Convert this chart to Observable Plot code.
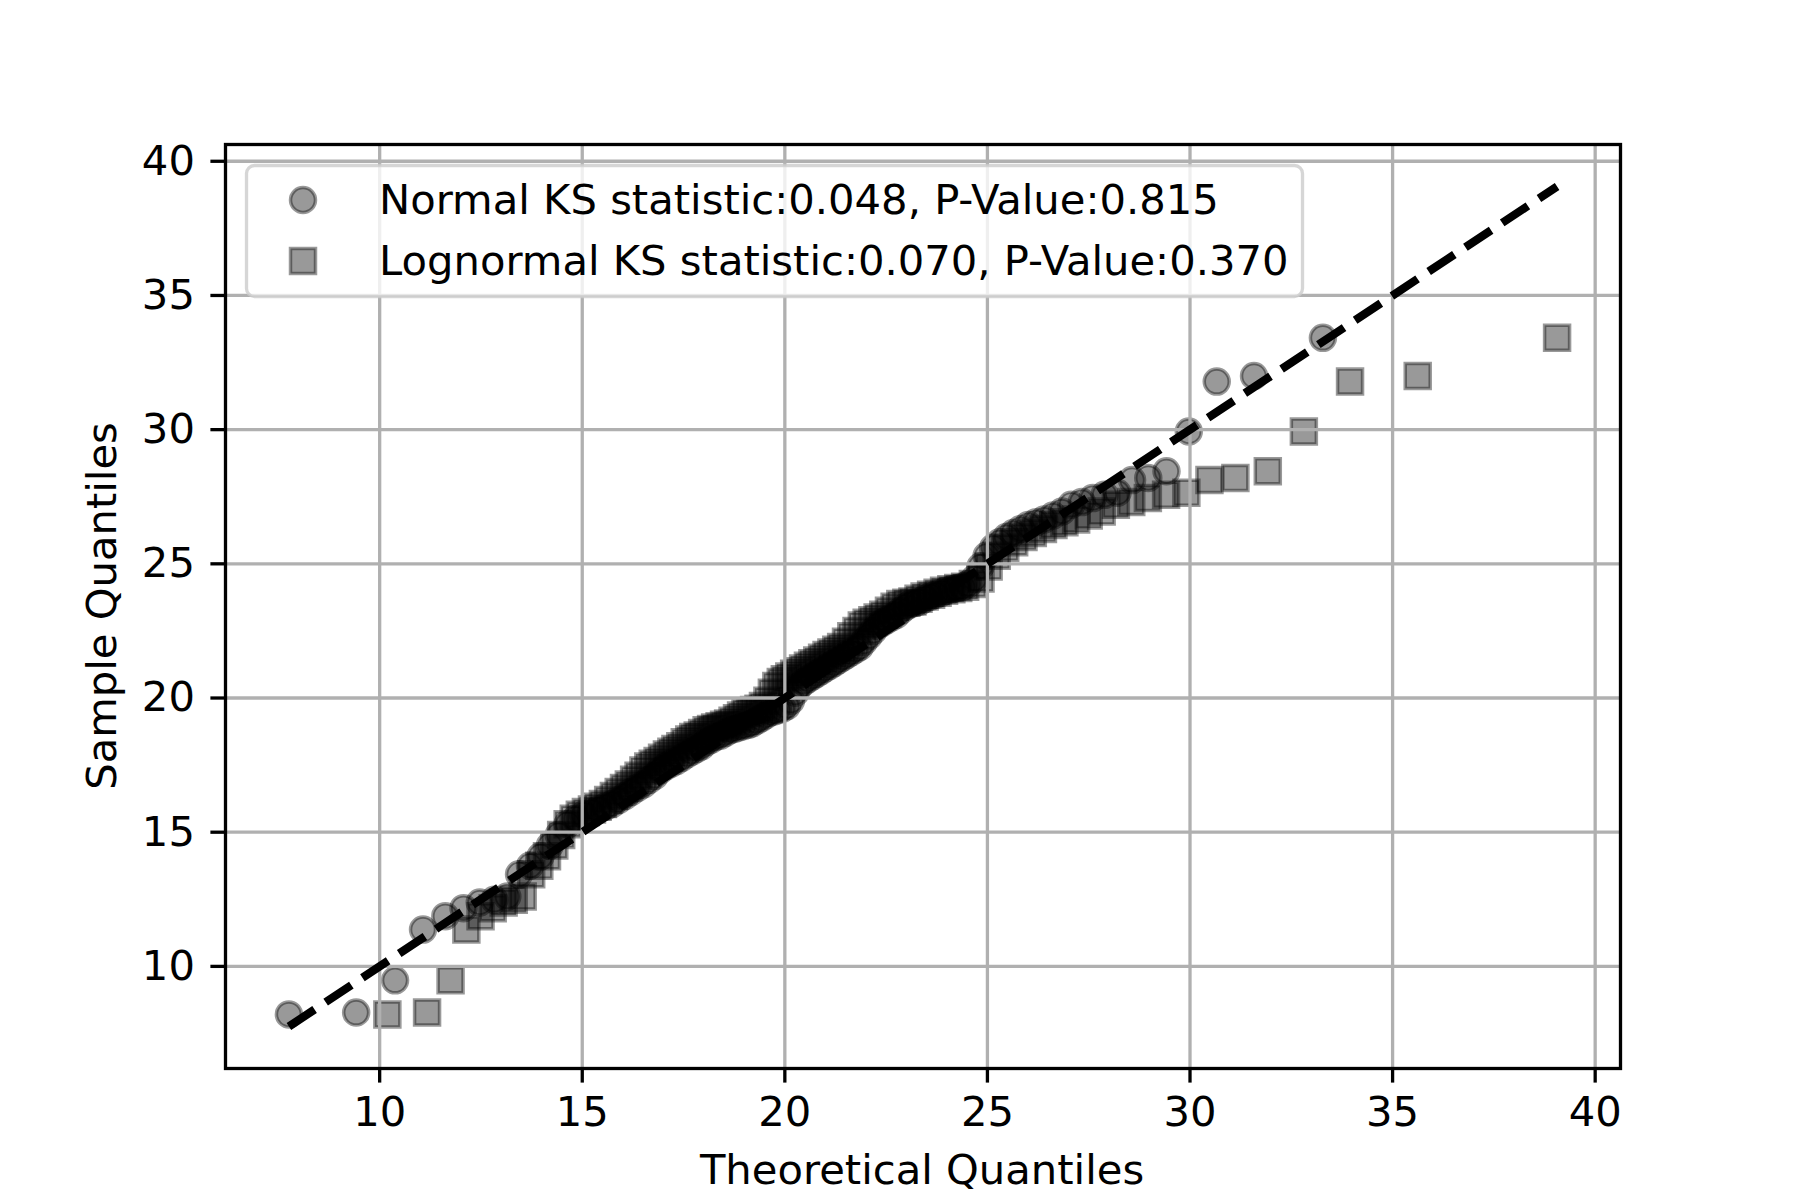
<!DOCTYPE html>
<html>
<head>
<meta charset="utf-8">
<script src="https://cdn.jsdelivr.net/npm/d3@7"></script>
<script src="https://cdn.jsdelivr.net/npm/@observablehq/plot@0.6"></script>
<style>
  html, body { margin: 0; padding: 0; background: #ffffff; }
  #wrap { position: relative; width: 1800px; height: 1200px; font-family: "DejaVu Sans", sans-serif; background: #ffffff; }
  #wrap > svg.plot { position: absolute; left: 0; top: 0; }
  #overlay { position: absolute; left: 0; top: 0; pointer-events: none; }
</style>
</head>
<body>
<div id="wrap"></div>
<script>
// ---- data ----
const sampleQ = [
  8.21, 8.28, 9.48, 11.37, 11.87, 12.17, 12.38, 12.48, 12.60, 13.43,
  13.75, 14.10, 14.50, 14.90, 15.30, 15.50, 15.65, 15.75, 15.85, 15.95,
  16.05, 16.20, 16.35, 16.50, 16.65, 16.78, 16.95, 17.10, 17.30, 17.45,
  17.55, 17.65, 17.77, 17.90, 18.00, 18.10, 18.20, 18.35, 18.45, 18.55,
  18.60, 18.70, 18.80, 18.85, 18.90, 18.95, 19.00, 19.05, 19.15, 19.25,
  19.35, 19.45, 19.50, 19.55, 19.60, 19.70, 19.90, 20.20, 20.45, 20.60,
  20.70, 20.80, 20.90, 21.00, 21.10, 21.20, 21.30, 21.40, 21.50, 21.60,
  21.70, 21.80, 21.90, 22.10, 22.30, 22.50, 22.70, 22.80, 22.90, 23.00,
  23.10, 23.25, 23.40, 23.50, 23.55, 23.60, 23.70, 23.78, 23.85, 23.92,
  24.00, 24.05, 24.10, 24.15, 24.25, 24.45, 24.90, 25.30, 25.60, 25.80,
  26.00, 26.15, 26.30, 26.45, 26.55, 26.65, 26.80, 26.95, 27.20, 27.30,
  27.45, 27.57, 27.65, 28.12, 28.20, 28.45, 29.93, 31.79, 32.00, 33.42
];
const normalQ = [
  7.76, 9.42, 10.38, 11.07, 11.62, 12.07, 12.47, 12.83, 13.15, 13.44,
  13.71, 13.97, 14.20, 14.42, 14.64, 14.84, 15.03, 15.22, 15.40, 15.57,
  15.74, 15.90, 16.06, 16.21, 16.36, 16.51, 16.65, 16.79, 16.92, 17.06,
  17.19, 17.32, 17.45, 17.58, 17.70, 17.82, 17.94, 18.06, 18.18, 18.29,
  18.41, 18.53, 18.64, 18.75, 18.86, 18.97, 19.09, 19.19, 19.30, 19.41,
  19.52, 19.62, 19.73, 19.83, 19.94, 20.05, 20.15, 20.26, 20.36, 20.47,
  20.57, 20.68, 20.78, 20.89, 20.99, 21.10, 21.21, 21.31, 21.42, 21.52,
  21.63, 21.74, 21.85, 21.95, 22.07, 22.18, 22.29, 22.40, 22.51, 22.63,
  22.75, 22.86, 22.98, 23.10, 23.22, 23.34, 23.46, 23.59, 23.72, 23.85,
  23.98, 24.12, 24.25, 24.39, 24.53, 24.68, 24.83, 24.98, 25.14, 25.30,
  25.47, 25.64, 25.82, 26.01, 26.20, 26.40, 26.62, 26.84, 27.07, 27.33,
  27.60, 27.89, 28.21, 28.57, 28.97, 29.42, 29.97, 30.66, 31.58, 33.28
];
const lognormalQ = [
  10.19, 11.17, 11.75, 12.14, 12.49, 12.79, 13.06, 13.31, 13.53, 13.74,
  13.94, 14.13, 14.31, 14.48, 14.64, 14.79, 14.94, 15.09, 15.24, 15.38,
  15.51, 15.64, 15.78, 15.90, 16.03, 16.15, 16.28, 16.39, 16.51, 16.63,
  16.74, 16.86, 16.97, 17.09, 17.20, 17.30, 17.42, 17.53, 17.64, 17.74,
  17.85, 17.96, 18.07, 18.18, 18.28, 18.39, 18.50, 18.60, 18.71, 18.82,
  18.92, 19.03, 19.14, 19.24, 19.35, 19.46, 19.57, 19.68, 19.79, 19.90,
  20.00, 20.11, 20.23, 20.34, 20.45, 20.57, 20.68, 20.80, 20.92, 21.03,
  21.15, 21.27, 21.39, 21.51, 21.64, 21.77, 21.90, 22.02, 22.16, 22.29,
  22.43, 22.57, 22.71, 22.85, 23.00, 23.15, 23.30, 23.45, 23.61, 23.77,
  23.93, 24.11, 24.28, 24.45, 24.64, 24.83, 25.03, 25.23, 25.44, 25.66,
  25.89, 26.12, 26.37, 26.63, 26.90, 27.19, 27.50, 27.82, 28.17, 28.55,
  28.96, 29.41, 29.91, 30.48, 31.12, 31.92, 32.81, 33.95, 35.62, 39.06
];
const refLine = [7.76, 39.06];
const xTicks = [10, 15, 20, 25, 30, 35, 40];
const yTicks = [10, 15, 20, 25, 30, 35, 40];
const legendLabels = [
  "Normal KS statistic:0.048, P-Value:0.815",
  "Lognormal KS statistic:0.070, P-Value:0.370"
];
const xLabel = "Theoretical Quantiles";
const yLabel = "Sample Quantiles";

// ---- build tables ----
const n = Math.min(sampleQ.length, normalQ.length, lognormalQ.length);
const normalPts = d3.range(n).map(i => ({x: normalQ[i], y: sampleQ[i]}));
const lognormalPts = d3.range(n).map(i => ({x: lognormalQ[i], y: sampleQ[i]}));
const linePts = refLine.map(v => ({x: v, y: v}));

const FS = 41.7;
const dotStyle = {fill: "black", fillOpacity: 0.4, stroke: "black", strokeOpacity: 0.4, strokeWidth: 3.5};

const chart = Plot.plot({
  width: 1800,
  height: 1200,
  marginLeft: 225,
  marginRight: 180,
  marginTop: 144,
  marginBottom: 132,
  style: {fontFamily: "DejaVu Sans", fontSize: FS + "px", color: "black", background: "transparent"},
  x: {domain: [6.195, 40.625]},
  y: {domain: [6.195, 40.625]},
  marks: [
    Plot.dot(normalPts, {x: "x", y: "y", symbol: "circle", r: 12.5, ...dotStyle}),
    Plot.dot(lognormalPts, {x: "x", y: "y", symbol: "square", r: 14.1, ...dotStyle}),
    Plot.gridX(xTicks, {stroke: "#b0b0b0", strokeOpacity: 1, strokeWidth: 3.3}),
    Plot.gridY(yTicks, {stroke: "#b0b0b0", strokeOpacity: 1, strokeWidth: 3.3}),
    Plot.line(linePts, {x: "x", y: "y", stroke: "black", strokeWidth: 8.3, strokeDasharray: "30.8,13.3", strokeLinecap: "butt"}),
    Plot.frame({stroke: "black", strokeWidth: 3.3}),
    Plot.axisX(xTicks, {tickSize: 14.6, tickPadding: 13.5, strokeWidth: 3.3, fontSize: FS, label: null}),
    Plot.axisY(yTicks, {tickSize: 14.6, tickPadding: 16, strokeWidth: 3.3, fontSize: FS, label: null})
  ]
});
chart.classList.add("plot");
const wrap = document.getElementById("wrap");
wrap.appendChild(chart);

// ---- overlay: legend and axis titles ----
const svg = d3.select(wrap).append("svg")
  .attr("id", "overlay")
  .attr("width", 1800).attr("height", 1200)
  .style("font-family", "DejaVu Sans");

svg.append("text")
  .attr("x", 922).attr("y", 1184)
  .attr("text-anchor", "middle")
  .attr("font-size", FS)
  .attr("fill", "black")
  .text(xLabel);

svg.append("text")
  .attr("transform", "translate(116,606) rotate(-90)")
  .attr("text-anchor", "middle")
  .attr("font-size", FS)
  .attr("fill", "black")
  .text(yLabel);

const lg = svg.append("g");
lg.append("rect")
  .attr("x", 246.5).attr("y", 165.5)
  .attr("width", 1056).attr("height", 131)
  .attr("rx", 8).attr("ry", 8)
  .attr("fill", "white").attr("fill-opacity", 0.8)
  .attr("stroke", "#cccccc").attr("stroke-opacity", 0.8).attr("stroke-width", 3.3);

const rows = [200, 261];
lg.append("circle")
  .attr("cx", 303).attr("cy", rows[0]).attr("r", 12.5)
  .attr("fill", "black").attr("fill-opacity", 0.4)
  .attr("stroke", "black").attr("stroke-opacity", 0.4).attr("stroke-width", 3.5);
lg.append("rect")
  .attr("x", 303 - 12.5).attr("y", rows[1] - 12.5).attr("width", 25).attr("height", 25)
  .attr("fill", "black").attr("fill-opacity", 0.4)
  .attr("stroke", "black").attr("stroke-opacity", 0.4).attr("stroke-width", 3.5);
legendLabels.forEach((t, i) => {
  lg.append("text")
    .attr("x", 379).attr("y", rows[i] + 14)
    .attr("font-size", FS)
    .attr("fill", "black")
    .text(t);
});
</script>
</body>
</html>
